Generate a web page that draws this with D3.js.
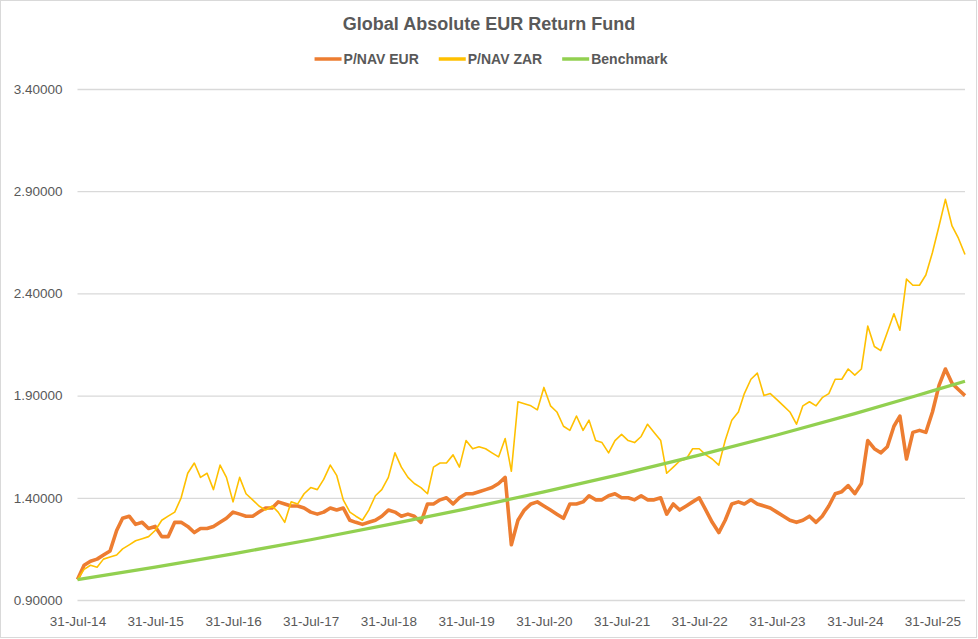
<!DOCTYPE html>
<html>

<head>
  <title>Global Absolute EUR Return Fund</title>
  <meta charset="utf-8">
  <script src="https://d3js.org/d3.v7.min.js"></script>
  <style>
    body { margin: 0; background: #fff; }
    text { font-family: "Liberation Sans", Arial, sans-serif; fill: #595959; }
  </style>
</head>

<body>
  <div id="chart"></div>

  <script>
    // month-end samples, starting 31-Jul-14 (one value per month)
    var startMonth = new Date(2014, 7, 1);

    var navEur = [
      1.00, 1.07, 1.09, 1.10, 1.12, 1.14, 1.24, 1.30, 1.31, 1.27, 1.28, 1.25,
      1.26, 1.21, 1.21, 1.28, 1.28, 1.26, 1.23, 1.25, 1.25, 1.26, 1.28, 1.30,
      1.33, 1.32, 1.31, 1.31, 1.33, 1.35, 1.35, 1.38, 1.37, 1.36, 1.36, 1.35,
      1.33, 1.32, 1.33, 1.35, 1.34, 1.35, 1.29, 1.28, 1.27, 1.28, 1.29, 1.31,
      1.34, 1.33, 1.31, 1.32, 1.31, 1.28, 1.37, 1.37, 1.39, 1.40, 1.37, 1.40,
      1.42, 1.42, 1.43, 1.44, 1.45, 1.47, 1.50, 1.17, 1.29, 1.34, 1.37, 1.38,
      1.36, 1.34, 1.32, 1.30, 1.37, 1.37, 1.38, 1.41, 1.39, 1.39, 1.41, 1.42,
      1.40, 1.40, 1.39, 1.41, 1.39, 1.39, 1.40, 1.32, 1.37, 1.34, 1.36, 1.38,
      1.40, 1.34, 1.28, 1.23, 1.29, 1.37, 1.38, 1.37, 1.39, 1.37, 1.36, 1.35,
      1.33, 1.31, 1.29, 1.28, 1.29, 1.31, 1.28, 1.31, 1.36, 1.42, 1.43, 1.46,
      1.42, 1.47, 1.68, 1.64, 1.62, 1.65, 1.75, 1.80, 1.59, 1.72, 1.73, 1.72,
      1.82, 1.95, 2.03, 1.96, 1.93, 1.90
    ];

    var navZar = [
      1.00, 1.05, 1.07, 1.06, 1.10, 1.11, 1.12, 1.15, 1.17, 1.19, 1.20, 1.21,
      1.24, 1.29, 1.31, 1.33, 1.40, 1.52, 1.57, 1.50, 1.52, 1.44, 1.56, 1.50,
      1.38, 1.50, 1.42, 1.39, 1.36, 1.34, 1.36, 1.33, 1.28, 1.38, 1.37, 1.42,
      1.45, 1.44, 1.49, 1.56, 1.51, 1.39, 1.33, 1.31, 1.29, 1.34, 1.41, 1.44,
      1.50, 1.62, 1.55, 1.50, 1.47, 1.45, 1.42, 1.55, 1.57, 1.57, 1.61, 1.55,
      1.68, 1.64, 1.65, 1.64, 1.62, 1.60, 1.69, 1.53, 1.87, 1.86, 1.85, 1.83,
      1.94, 1.85, 1.82, 1.75, 1.73, 1.80, 1.73, 1.78, 1.68, 1.67, 1.62, 1.68,
      1.71, 1.68, 1.67, 1.70, 1.76, 1.72, 1.68, 1.52, 1.55, 1.58, 1.59, 1.64,
      1.64, 1.61, 1.59, 1.56, 1.68, 1.78, 1.82, 1.91, 1.98, 2.01, 1.90, 1.91,
      1.88, 1.85, 1.82, 1.76, 1.85, 1.87, 1.85, 1.89, 1.91, 1.98, 1.98, 2.03,
      2.00, 2.03, 2.24, 2.14, 2.12, 2.21, 2.30, 2.22, 2.47, 2.44, 2.44, 2.49,
      2.60, 2.73, 2.86, 2.73, 2.67, 2.59
    ];

    // benchmark read at each 31 July, plus the last date
    var benchDates = ["2014-07-31", "2015-07-31", "2016-07-31", "2017-07-31", "2018-07-31",
      "2019-07-31", "2020-07-31", "2021-07-31", "2022-07-31", "2023-07-31",
      "2024-07-31", "2025-07-31", "2025-12-31"];
    var benchmark = [1.000, 1.061, 1.126, 1.195, 1.269, 1.346, 1.429, 1.516, 1.609,
      1.707, 1.812, 1.923, 1.970];

    var yTicks = [0.9, 1.4, 1.9, 2.4, 2.9, 3.4];
    var xTickYears = [2014, 2015, 2016, 2017, 2018, 2019, 2020, 2021, 2022, 2023, 2024, 2025];

    var seriesNames = ["P/NAV EUR", "P/NAV ZAR", "Benchmark"];
    var seriesColors = ["#ED7D31", "#FFC000", "#92D050"];
    var seriesWidths = [3.6, 1.6, 3.2];

    var width = 978,
      height = 639,
      plotLeft = 77.5,
      plotRight = 965,
      plotTop = 89,
      plotBottom = 600;

    var parseDate = d3.timeParse("%Y-%m-%d");

    // last day of each month
    var monthDates = navEur.map(function(d, i) {
      return d3.timeDay.offset(d3.timeMonth.offset(startMonth, i), -1);
    });

    var svg = d3.select("#chart")
      .append("svg")
      .attr("width", width)
      .attr("height", height);

    svg.append("rect")
      .attr("x", 0.5)
      .attr("y", 0.5)
      .attr("width", width - 2)
      .attr("height", height - 2)
      .attr("fill", "#fff")
      .attr("stroke", "#d9d9d9");

    var x = d3.scaleTime()
      .domain([monthDates[0], monthDates[monthDates.length - 1]])
      .range([plotLeft, plotRight]);

    var y = d3.scaleLinear()
      .domain([0.9, 3.4])
      .range([plotBottom, plotTop]);

    // y axis + gridlines
    var yAxis = svg.append("g")
      .attr("transform", "translate(" + plotLeft + ",0)")
      .call(d3.axisLeft(y)
        .tickValues(yTicks)
        .tickSize(-(plotRight - plotLeft))
        .tickPadding(15)
        .tickFormat(d3.format(".5f")));
    yAxis.select(".domain").remove();
    yAxis.selectAll(".tick line").attr("stroke", "#d9d9d9").attr("stroke-width", 1.3);
    yAxis.selectAll(".tick text").style("font-size", "13.5px").attr("fill", "#595959");

    // x axis
    var xAxis = svg.append("g")
      .attr("transform", "translate(0," + plotBottom + ")")
      .call(d3.axisBottom(x)
        .tickValues(xTickYears.map(function(yr) { return new Date(yr, 6, 31); }))
        .tickSize(0)
        .tickPadding(16)
        .tickFormat(d3.timeFormat("%d-%b-%y")));
    xAxis.select(".domain").remove();
    xAxis.selectAll(".tick text").style("font-size", "13.5px").attr("fill", "#595959");

    var line = d3.line()
      .x(function(d) { return x(d[0]); })
      .y(function(d) { return y(d[1]); });

    var seriesData = [
      monthDates.map(function(d, i) { return [d, navEur[i]]; }),
      monthDates.map(function(d, i) { return [d, navZar[i]]; }),
      benchDates.map(function(d, i) { return [parseDate(d), benchmark[i]]; })
    ];

    seriesData.forEach(function(data, k) {
      svg.append("path")
        .datum(data)
        .attr("fill", "none")
        .attr("stroke", seriesColors[k])
        .attr("stroke-width", seriesWidths[k])
        .attr("stroke-linejoin", "round")
        .attr("d", k == 2 ? line.curve(d3.curveMonotoneX)(data) : line.curve(d3.curveLinear)(data));
    });

    // title
    svg.append("text")
      .attr("x", width / 2)
      .attr("y", 30)
      .attr("text-anchor", "middle")
      .style("font-size", "18px")
      .style("font-weight", "bold")
      .text("Global Absolute EUR Return Fund");

    // legend, centred
    var legend = svg.append("g");
    var lx = 0;
    seriesNames.forEach(function(name, k) {
      legend.append("line")
        .attr("x1", lx).attr("x2", lx + 27)
        .attr("y1", 59).attr("y2", 59)
        .attr("stroke", seriesColors[k])
        .attr("stroke-width", 3.5);
      var t = legend.append("text")
        .attr("x", lx + 29)
        .attr("y", 64)
        .style("font-size", "14px")
        .style("font-weight", "bold")
        .text(name);
      lx += 29 + t.node().getComputedTextLength() + 20;
    });
    lx -= 20;
    legend.attr("transform", "translate(" + (491 - lx / 2) + ",0)");
  </script>
</body>
</html>
